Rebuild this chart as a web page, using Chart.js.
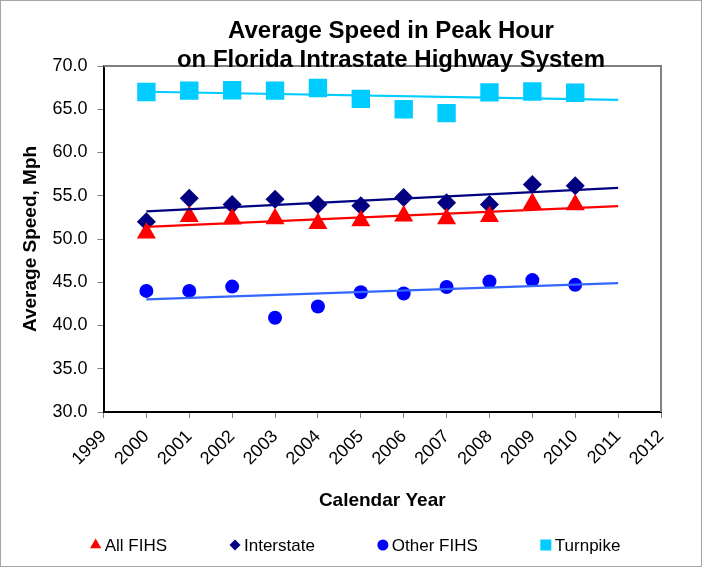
<!DOCTYPE html>
<html>
<head>
<meta charset="utf-8">
<title>Average Speed in Peak Hour</title>
<script src="https://cdn.jsdelivr.net/npm/chart.js@4.4.1/dist/chart.umd.min.js"></script>
<style>
  html, body { margin: 0; padding: 0; background: #fff; }
  #wrap { width: 702px; height: 567px; }
</style>
</head>
<body>
<div id="wrap"><canvas id="speedChart" width="702" height="567"></canvas></div>
<script>
// values (mph)
const years = [2000, 2001, 2002, 2003, 2004, 2005, 2006, 2007, 2008, 2009, 2010];
const allFihs = [50.7, 52.6, 52.3, 52.35, 51.8, 52.1, 52.65, 52.35, 52.6, 54.1, 53.95];
const interstate = [52.0, 54.7, 54.0, 54.6, 54.0, 53.85, 54.8, 54.2, 54.0, 56.3, 56.15];
const otherFihs = [44.0, 44.0, 44.5, 40.9, 42.2, 43.85, 43.7, 44.45, 45.1, 45.25, 44.7];
const turnpike = [67.0, 67.15, 67.2, 67.15, 67.45, 66.2, 65.0, 64.55, 66.95, 67.05, 66.9];

const titleLines = ['Average Speed in Peak Hour', 'on Florida Intrastate Highway System'];

const xMin = 1999, xMax = 2012;
const yMin = 30, yMax = 70, yStep = 5;
const trendEnd = 2011; // trendlines run one year past the data

const FONT = '"Liberation Sans", Arial, Helvetica, sans-serif';

function points(ys) {
  return years.map((x, i) => ({ x: x, y: ys[i] }));
}

// least squares line, like the spreadsheet trendline
function trendLine(ys) {
  const n = years.length;
  const mx = years.reduce((a, b) => a + b, 0) / n;
  const my = ys.reduce((a, b) => a + b, 0) / n;
  let sxy = 0, sxx = 0;
  years.forEach((x, i) => {
    sxy += (x - mx) * (ys[i] - my);
    sxx += (x - mx) * (x - mx);
  });
  const slope = sxy / sxx;
  const b = my - slope * mx;
  return [years[0], trendEnd].map(x => ({ x: x, y: b + slope * x }));
}

function markerSet(label, ys, color, style, radius, legendRadius) {
  return {
    label: label,
    data: points(ys),
    showLine: false,
    pointStyle: style,
    pointRadius: radius,
    pointHoverRadius: radius,
    pointBackgroundColor: color,
    pointBorderColor: color,
    pointBorderWidth: 0,
    backgroundColor: color,
    borderColor: color,
    inLegend: true,
    legendRadius: legendRadius,
    order: 1
  };
}

function trendSet(ys, color) {
  return {
    label: 'trend',
    data: trendLine(ys),
    showLine: true,
    borderColor: color,
    borderWidth: 2.2,
    pointRadius: 0,
    pointHoverRadius: 0,
    fill: false,
    order: 0
  };
}

// grey frame round the picture, top/right edge of the plot area, and the title
const framePlugin = {
  id: 'frame',
  beforeDraw(chart) {
    const { ctx, width, height } = chart;
    ctx.save();
    ctx.fillStyle = '#ffffff';
    ctx.fillRect(0, 0, width, height);
    ctx.strokeStyle = '#a6a6a6';
    ctx.lineWidth = 1;
    ctx.strokeRect(0.5, 0.5, width - 1, height - 1);
    ctx.restore();
  },
  afterDraw(chart) {
    const { ctx, chartArea } = chart;
    ctx.save();
    ctx.strokeStyle = '#808080';
    ctx.lineWidth = 2;
    ctx.beginPath();
    ctx.moveTo(chartArea.left, chartArea.top);
    ctx.lineTo(chartArea.right, chartArea.top);
    ctx.lineTo(chartArea.right, chartArea.bottom);
    ctx.stroke();

    ctx.fillStyle = '#000';
    ctx.font = 'bold 24px ' + FONT;
    ctx.textAlign = 'center';
    ctx.textBaseline = 'middle';
    ctx.fillText(titleLines[0], 391, 31);
    ctx.fillText(titleLines[1], 391, 60.5);
    ctx.restore();
  }
};

// legend row spread out under the chart
const legendPlugin = {
  id: 'wideLegend',
  afterDraw(chart) {
    const ctx = chart.ctx;
    const items = chart.data.datasets.filter(d => d.inLegend);
    const box = 12, textGap = 3, gap = 62;
    ctx.save();
    ctx.font = '17px ' + FONT;
    const widths = items.map(d => box + textGap + ctx.measureText(d.label).width);
    const total = widths.reduce((a, b) => a + b, 0) + gap * (items.length - 1);
    let x = chart.width / 2 + 4 - total / 2;
    const y = 545;
    items.forEach((d, i) => {
      ctx.fillStyle = d.pointBackgroundColor;
      ctx.strokeStyle = d.pointBackgroundColor;
      Chart.helpers.drawPoint(ctx, { pointStyle: d.pointStyle, radius: d.legendRadius, borderWidth: 0, rotation: 0 }, x + box / 2, y);
      ctx.fillStyle = '#000';
      ctx.textBaseline = 'middle';
      ctx.textAlign = 'left';
      ctx.fillText(d.label, x + box + textGap, y + 1);
      x += widths[i] + gap;
    });
    ctx.restore();
  }
};

const datasets = [
  markerSet('All FIHS', allFihs, '#ff0000', 'triangle', 11, 6.5),
  markerSet('Interstate', interstate, '#000080', 'rectRot', 9.5, 5.5),
  markerSet('Other FIHS', otherFihs, '#0000ff', 'circle', 7, 5.5),
  markerSet('Turnpike', turnpike, '#00ccff', 'rect', 13, 7.8),
  trendSet(allFihs, '#ff0000'),
  trendSet(interstate, '#000080'),
  trendSet(otherFihs, '#3366ff'),
  trendSet(turnpike, '#00ccff')
];

const ctx = document.getElementById('speedChart').getContext('2d');
const chart = new Chart(ctx, {
  type: 'scatter',
  data: { datasets: datasets },
  options: {
    responsive: false,
    animation: false,
    devicePixelRatio: 1,
    layout: { padding: { left: 0, right: 41, top: 66, bottom: 45 } },
    plugins: {
      legend: { display: false },
      tooltip: { enabled: false },
      title: { display: false }
    },
    scales: {
      x: {
        type: 'linear',
        min: xMin,
        max: xMax,
        afterFit(scale) { scale.height = 110; },
        border: { color: '#000', width: 2 },
        grid: { drawOnChartArea: false, drawTicks: true, tickLength: 6, color: '#808080' },
        ticks: {
          stepSize: 1,
          autoSkip: false,
          minRotation: 45,
          maxRotation: 45,
          padding: 8,
          color: '#000',
          font: { family: FONT, size: 18 },
          callback: v => String(v)
        },
        title: {
          display: true,
          text: 'Calendar Year',
          color: '#000',
          font: { family: FONT, size: 19, weight: 'bold' },
          padding: { top: 0, bottom: 10 }
        }
      },
      y: {
        min: yMin,
        max: yMax,
        afterFit(scale) { scale.width = 103.5; },
        border: { color: '#000', width: 2 },
        grid: { drawOnChartArea: false, drawTicks: true, tickLength: 6, color: '#808080' },
        ticks: {
          stepSize: yStep,
          padding: 10,
          color: '#000',
          font: { family: FONT, size: 18 },
          callback: v => v.toFixed(1)
        },
        title: {
          display: true,
          text: 'Average Speed, Mph',
          color: '#000',
          font: { family: FONT, size: 19, weight: 'bold' },
          padding: { top: 19, bottom: 0 }
        }
      }
    }
  },
  plugins: [framePlugin, legendPlugin]
});
</script>
</body>
</html>
